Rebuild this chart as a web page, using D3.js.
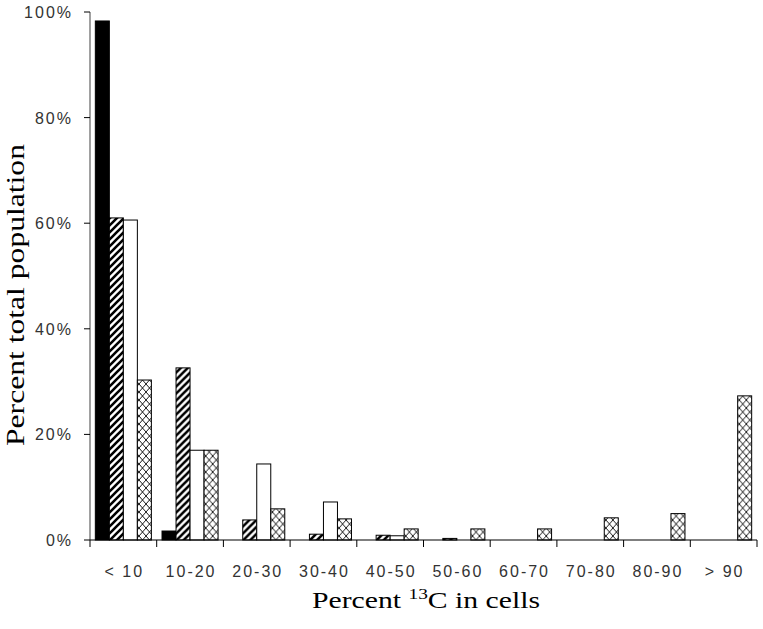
<!DOCTYPE html>
<html>
<head>
<meta charset="utf-8">
<script src="https://cdn.jsdelivr.net/npm/d3@7"></script>
<style>
  body { margin: 0; background: #fff; }
  svg { display: block; }
</style>
</head>
<body>
<script>
var categories = ["< 10", "10-20", "20-30", "30-40", "40-50", "50-60", "60-70", "70-80", "80-90", "> 90"];
var seriesNames = ["solid", "hatched", "open", "cross"];
var solidValues   = [98.3, 1.7, 0, 0, 0, 0, 0, 0, 0, 0];
var hatchedValues = [61.0, 32.6, 3.8, 1.1, 0.9, 0.3, 0, 0, 0, 0];
var openValues    = [60.6, 17.0, 14.4, 7.2, 0.8, 0, 0, 0, 0, 0];
var crossValues   = [30.3, 17.0, 5.9, 4.0, 2.1, 2.1, 2.1, 4.2, 5.0, 27.3];
var yTicks = [0, 20, 40, 60, 80, 100];

var screen = {width: 763, height: 629};
var plot = {left: 90, right: 757, top: 12, bottom: 540};

var svg = d3.select("body")
            .append("svg")
            .attr("width", screen.width)
            .attr("height", screen.height);

// fill patterns
var defs = svg.append("defs");

var hatch = defs.append("pattern")
                .attr("id", "hatch")
                .attr("patternUnits", "userSpaceOnUse")
                .attr("width", 7)
                .attr("height", 7);
hatch.append("rect").attr("width", 7).attr("height", 7).attr("fill", "white");
hatch.append("path")
     .attr("d", "M-1,1 l2,-2 M0,7 l7,-7 M6,8 l2,-2")
     .attr("stroke", "black")
     .attr("stroke-width", 2.6);

var cross = defs.append("pattern")
                .attr("id", "cross")
                .attr("patternUnits", "userSpaceOnUse")
                .attr("width", 7)
                .attr("height", 8);
cross.append("rect").attr("width", 7).attr("height", 8).attr("fill", "white");
cross.append("path")
     .attr("d", "M0,0 L7,8 M7,0 L0,8")
     .attr("stroke", "black")
     .attr("stroke-width", 0.9);

var fills = {solid: "black", hatched: "url(#hatch)", open: "white", cross: "url(#cross)"};

var data = categories.map(function(c, i) {
  return {
    category: c,
    values: [
      {key: "solid", value: solidValues[i]},
      {key: "hatched", value: hatchedValues[i]},
      {key: "open", value: openValues[i]},
      {key: "cross", value: crossValues[i]}
    ]
  };
});

var x0 = d3.scaleBand()
           .domain(categories)
           .range([plot.left, plot.right])
           .padding(0);

var x1 = d3.scaleBand()
           .domain(seriesNames)
           .range([0, x0.bandwidth()])
           .paddingInner(0)
           .paddingOuter(0.38);

var y = d3.scaleLinear()
          .domain([0, 100])
          .range([plot.bottom, plot.top]);

// bars
var groups = svg.append("g")
                .selectAll("g")
                .data(data)
                .enter()
                .append("g")
                .attr("transform", function(d) {return "translate(" + x0(d.category) + ",0)";});

groups.selectAll("rect")
      .data(function(d) {return d.values.filter(function(v) {return v.value > 0;});})
      .enter()
      .append("rect")
      .attr("x", function(d) {return x1(d.key);})
      .attr("y", function(d) {return y(d.value);})
      .attr("width", x1.bandwidth())
      .attr("height", function(d) {return y(0) - y(d.value);})
      .attr("fill", function(d) {return fills[d.key];})
      .attr("stroke", "black")
      .attr("stroke-width", 1);

// y axis
var yAxis = svg.append("g");
yAxis.append("line")
     .attr("x1", plot.left).attr("x2", plot.left)
     .attr("y1", y(100)).attr("y2", y(0))
     .attr("stroke", "#808080")
     .attr("stroke-width", 1.5);

var yt = yAxis.selectAll(".ytick")
              .data(yTicks)
              .enter()
              .append("g")
              .attr("class", "ytick")
              .attr("transform", function(d) {return "translate(0," + y(d) + ")";});

yt.append("line")
  .attr("x1", plot.left - 6).attr("x2", plot.left)
  .attr("stroke", "black");

yt.append("text")
  .attr("x", plot.left - 17)
  .attr("y", 6)
  .attr("text-anchor", "end")
  .attr("font-family", "Liberation Sans, Arial, sans-serif")
  .attr("font-size", "16px")
  .attr("letter-spacing", "2px")
  .attr("fill", "#333")
  .text(function(d) {return d + "%";});

// x axis
var xAxis = svg.append("g");
xAxis.append("line")
     .attr("x1", plot.left).attr("x2", plot.right)
     .attr("y1", y(0)).attr("y2", y(0))
     .attr("stroke", "black")
     .attr("stroke-width", 1.2);

var bounds = categories.map(function(c) {return x0(c);}).concat([plot.right]);
xAxis.selectAll(".xtick")
     .data(bounds)
     .enter()
     .append("line")
     .attr("x1", function(d) {return d;}).attr("x2", function(d) {return d;})
     .attr("y1", y(0)).attr("y2", y(0) + 7)
     .attr("stroke", "black");

xAxis.selectAll(".xlabel")
     .data(categories)
     .enter()
     .append("text")
     .attr("x", function(d) {return x0(d) + x0.bandwidth() / 2 + 1;})
     .attr("y", 577)
     .attr("text-anchor", "middle")
     .attr("font-family", "Liberation Sans, Arial, sans-serif")
     .attr("font-size", "16px")
     .attr("letter-spacing", "2px")
     .attr("fill", "#333")
     .text(function(d) {return d;});

// axis titles
var xTitle = svg.append("text")
                .attr("x", 426)
                .attr("y", 608)
                .attr("text-anchor", "middle")
                .attr("font-family", "Liberation Serif, Times New Roman, serif")
                .attr("font-size", "23px")
                .attr("textLength", 228)
                .attr("lengthAdjust", "spacingAndGlyphs");
xTitle.append("tspan").text("Percent ");
xTitle.append("tspan").attr("font-size", "15px").attr("dy", -9).text("13");
xTitle.append("tspan").attr("dy", 9).text("C in cells");

svg.append("text")
   .attr("transform", "translate(24,295) rotate(-90)")
   .attr("text-anchor", "middle")
   .attr("font-family", "Liberation Serif, Times New Roman, serif")
   .attr("font-size", "25px")
   .attr("textLength", 302)
   .attr("lengthAdjust", "spacingAndGlyphs")
   .text("Percent total population");
</script>
</body>
</html>
